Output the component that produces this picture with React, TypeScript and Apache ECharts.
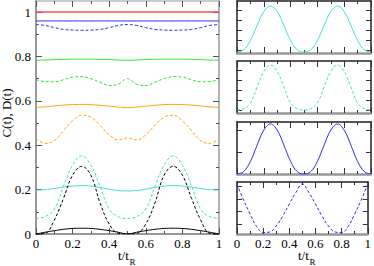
import React, { useEffect, useRef } from "react";
import * as echarts from "echarts";

// time samples t/t_R
const T = [0, 0.05, 0.1, 0.15, 0.2, 0.25, 0.3, 0.35, 0.4, 0.45, 0.5, 0.55, 0.6, 0.65, 0.7, 0.75, 0.8, 0.85, 0.9, 0.95, 1];

// main panel curves
const redSolid = [1, 1, 1, 1, 1, 1, 1, 1, 1, 1, 1, 1, 1, 1, 1, 1, 1, 1, 1, 1, 1];
const blueSolid = [0.96, 0.96, 0.96, 0.96, 0.96, 0.96, 0.96, 0.96, 0.96, 0.96, 0.96, 0.96, 0.96, 0.96, 0.96, 0.96, 0.96, 0.96, 0.96, 0.96, 0.96];
const blueDashed = [0.944, 0.94, 0.93, 0.922, 0.919, 0.918, 0.919, 0.922, 0.93, 0.94, 0.944, 0.94, 0.93, 0.922, 0.919, 0.918, 0.919, 0.922, 0.93, 0.94, 0.944];
const greenSolid = [0.783, 0.784, 0.786, 0.787, 0.788, 0.788, 0.788, 0.787, 0.786, 0.784, 0.783, 0.784, 0.786, 0.787, 0.788, 0.788, 0.788, 0.787, 0.786, 0.784, 0.783];
const greenDashed = [0.695, 0.687, 0.686, 0.695, 0.707, 0.709, 0.7, 0.684, 0.669, 0.675, 0.7, 0.675, 0.669, 0.684, 0.7, 0.709, 0.707, 0.695, 0.686, 0.687, 0.695];
const orangeSolid = [0.571, 0.573, 0.577, 0.581, 0.583, 0.584, 0.583, 0.58, 0.576, 0.572, 0.57, 0.572, 0.576, 0.58, 0.583, 0.584, 0.583, 0.581, 0.577, 0.573, 0.571];
const orangeDashed = [0.43, 0.408, 0.42, 0.466, 0.51, 0.535, 0.527, 0.49, 0.447, 0.424, 0.433, 0.424, 0.447, 0.49, 0.527, 0.535, 0.51, 0.466, 0.42, 0.408, 0.43];
const cyanSolid = [0.198, 0.2, 0.205, 0.211, 0.216, 0.218, 0.216, 0.21, 0.202, 0.196, 0.194, 0.196, 0.202, 0.21, 0.216, 0.218, 0.216, 0.211, 0.205, 0.2, 0.198];
const cyanDashed = [0.07, 0.078, 0.112, 0.215, 0.31, 0.352, 0.31, 0.215, 0.112, 0.078, 0.07, 0.078, 0.112, 0.215, 0.31, 0.352, 0.31, 0.215, 0.112, 0.078, 0.07];
const blackDashed = [0, 0.003, 0.063, 0.16, 0.265, 0.305, 0.265, 0.14, 0.045, 0.003, 0, 0.003, 0.045, 0.14, 0.265, 0.305, 0.265, 0.16, 0.063, 0.003, 0];
const blackSolid = [0, 0.008, 0.015, 0.021, 0.025, 0.026, 0.025, 0.021, 0.015, 0.008, 0, 0.008, 0.015, 0.021, 0.025, 0.026, 0.025, 0.021, 0.015, 0.008, 0];

// right-hand small panels (arbitrary units)
const panel1 = [0.02, 0.063, 0.251, 0.551, 0.828, 0.94, 0.828, 0.551, 0.251, 0.063, 0.02, 0.063, 0.251, 0.551, 0.828, 0.94, 0.828, 0.551, 0.251, 0.063, 0.02];
const panel2 = [0.06, 0.085, 0.2, 0.52, 0.83, 0.96, 0.83, 0.52, 0.2, 0.085, 0.06, 0.085, 0.2, 0.52, 0.83, 0.96, 0.83, 0.52, 0.2, 0.085, 0.06];
const panel3 = [0, 0.047, 0.251, 0.577, 0.878, 1.0, 0.878, 0.577, 0.251, 0.047, 0, 0.047, 0.251, 0.577, 0.878, 1.0, 0.878, 0.577, 0.251, 0.047, 0];
const panel4 = [1.0, 0.68, 0.4, 0.15, 0.03, 0.04, 0.16, 0.36, 0.6, 0.83, 1.0, 0.83, 0.6, 0.36, 0.16, 0.04, 0.03, 0.15, 0.4, 0.68, 1.0];

// tick values
const mainYMajor = [0, 0.2, 0.4, 0.6, 0.8, 1];
const mainYMinor = [0.1, 0.3, 0.5, 0.7, 0.9];
const panelTicks = [
  [0.06, 0.26, 0.46, 0.66, 0.86],
  [0.06, 0.26, 0.46, 0.66, 0.86],
  [0.44, 0.88],
  [0.2, 0.45, 0.7, 0.95],
];

const FONT = "Liberation Serif, DejaVu Serif, serif";
const RED = "#ff4d4d";
const BLUE = "#2a2aff";
const GREEN = "#22ee22";
const ORANGE = "#ffa500";
const CYAN = "#40e0d0";
const BLACK = "#000000";

const fmt = (v: number) => String(Math.round(v * 10) / 10);

function pairs(ys: number[]) {
  return T.map((t, i) => [t, ys[i]]);
}

export default function App() {
  const ref = useRef<HTMLDivElement>(null);

  useEffect(() => {
    if (!ref.current) return;
    const chart = echarts.init(ref.current, undefined, { renderer: "svg" });

    const grids: any[] = [
      { left: 36, top: 1, width: 183, height: 233 },
      { left: 237, top: 1, width: 134, height: 52 },
      { left: 237, top: 61, width: 134, height: 52 },
      { left: 237, top: 122, width: 134, height: 52 },
      { left: 237, top: 182, width: 134, height: 52 },
    ].map((g) => ({ ...g, containLabel: false }));

    const xAxes: any[] = [];
    const yAxes: any[] = [];

    const mkX = (gi: number, pos: string, labels: boolean, lineColor: string, lineWidth: number, tickColor: string) => ({
      type: "value",
      gridIndex: gi,
      position: pos,
      min: 0,
      max: 1,
      interval: 0.2,
      axisLine: { show: true, onZero: false, lineStyle: { color: lineColor, width: lineWidth } },
      axisTick: { show: true, inside: true, length: 6, lineStyle: { color: tickColor, width: 1 } },
      minorTick: { show: true, splitNumber: 2, length: 3, lineStyle: { color: tickColor, width: 1 } },
      axisLabel: {
        show: labels,
        margin: 3,
        fontFamily: FONT,
        fontSize: 13,
        color: "#000",
        formatter: (v: number) => fmt(v),
      },
      splitLine: { show: false },
      minorSplitLine: { show: false },
    });

    const mkY = (
      gi: number,
      pos: string,
      max: number,
      ticks: number[],
      len: number,
      labels: boolean,
      line: boolean,
      lineColor: string,
      lineWidth: number,
      tickColor: string
    ) => ({
      type: "value",
      gridIndex: gi,
      position: pos,
      min: 0,
      max,
      axisLine: { show: line, onZero: false, lineStyle: { color: lineColor, width: lineWidth } },
      axisTick: { show: true, inside: true, length: len, customValues: ticks, lineStyle: { color: tickColor, width: 1 } },
      axisLabel: {
        show: labels,
        customValues: ticks,
        margin: 5,
        fontFamily: FONT,
        fontSize: 13,
        color: "#000",
        formatter: (v: number) => fmt(v),
      },
      splitLine: { show: false },
    });

    // main grid
    xAxes.push(mkX(0, "bottom", true, "#999", 2, "#555"));
    xAxes.push(mkX(0, "top", false, "#bbb", 1.5, "#555"));
    yAxes.push(mkY(0, "left", 1.05, mainYMajor, 6, true, true, "#999", 2, "#555"));
    yAxes.push(mkY(0, "left", 1.05, mainYMinor, 3, false, false, "#999", 2, "#555"));
    yAxes.push(mkY(0, "right", 1.05, mainYMajor, 6, false, true, "#999", 1.5, "#555"));
    yAxes.push(mkY(0, "right", 1.05, mainYMinor, 3, false, false, "#999", 1.5, "#555"));

    // small panels
    for (let p = 0; p < 4; p++) {
      const gi = p + 1;
      xAxes.push(mkX(gi, "bottom", p === 3, "#999", 2.5, "#333"));
      xAxes.push(mkX(gi, "top", false, "#222", 1.5, "#333"));
      yAxes.push(mkY(gi, "left", 1.04, panelTicks[p], 5, false, true, "#222", 1.5, "#333"));
      yAxes.push(mkY(gi, "right", 1.04, panelTicks[p], 5, false, true, "#222", 1.5, "#333"));
    }

    const line = (data: number[], color: string, dashed: boolean, xi: number, yi: number, width = 1) => ({
      type: "line",
      xAxisIndex: xi,
      yAxisIndex: yi,
      data: pairs(data),
      smooth: 0.4,
      showSymbol: false,
      symbol: "none",
      silent: true,
      lineStyle: { color, width, type: dashed ? [3, 2] : "solid" },
    });

    const series: any[] = [
      line(redSolid, RED, false, 0, 0, 1.5),
      line(blueSolid, BLUE, false, 0, 0),
      line(blueDashed, BLUE, true, 0, 0),
      line(greenSolid, GREEN, false, 0, 0),
      line(greenDashed, GREEN, true, 0, 0),
      line(orangeSolid, ORANGE, false, 0, 0),
      line(orangeDashed, ORANGE, true, 0, 0),
      line(cyanSolid, CYAN, false, 0, 0),
      line(cyanDashed, CYAN, true, 0, 0),
      line(blackDashed, BLACK, true, 0, 0),
      line(blackSolid, BLACK, false, 0, 0),
      line(panel1, CYAN, false, 2, 4),
      line(panel2, CYAN, true, 4, 6),
      line(panel3, BLUE, false, 6, 8),
      line(panel4, BLUE, true, 8, 10),
    ];

    const txt = (text: string, x: number, y: number, size: number) => ({
      type: "text",
      x,
      y,
      style: { text, fontFamily: FONT, fontSize: size, fill: "#000", textAlign: "left", textVerticalAlign: "middle" },
    });

    chart.setOption({
      animation: false,
      backgroundColor: "#fff",
      textStyle: { fontFamily: FONT },
      grid: grids,
      xAxis: xAxes,
      yAxis: yAxes,
      series,
      graphic: [
        txt("t/t", 118, 255, 13),
        txt("R", 129.5, 262, 9),
        txt("t/t", 298, 255, 13),
        txt("R", 309.5, 262, 9),
        { type: "text", x: 6, y: 113, rotation: Math.PI / 2, style: { text: "C(t), D(t)", fontFamily: FONT, fontSize: 13, fill: "#000", textAlign: "center", textVerticalAlign: "middle" } },
      ],
    });

    return () => chart.dispose();
  }, []);

  return <div ref={ref} style={{ position: "fixed", left: 0, top: 0, width: 374, height: 266 }} />;
}
